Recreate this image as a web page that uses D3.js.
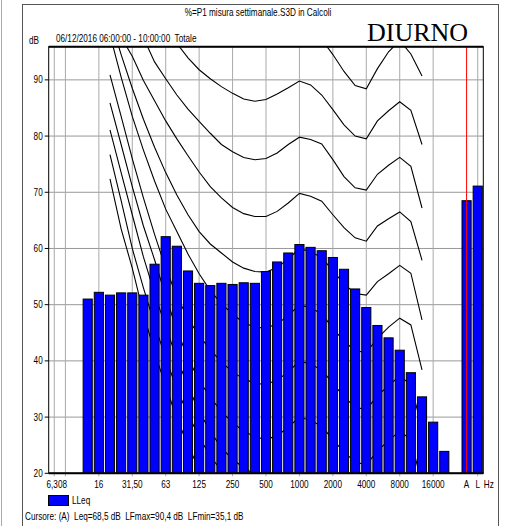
<!DOCTYPE html>
<html>
<head>
<meta charset="utf-8">
<script src="https://cdn.jsdelivr.net/npm/d3@7/dist/d3.min.js"></script>
<style>
body { margin: 0; background: #fff; }
text { font-family: "Liberation Sans", Arial, sans-serif; fill: #000; white-space: pre; }
</style>
</head>
<body>
<div class="chart"></div>
<script>
var width = 506;
var height = 526;

// slots along the x axis: third octave bands, an empty slot, then A and L totals
var bands = ["6.3","8","10","12.5","16","20","25","31.5","40","50","63","80","100","125","160","200",
  "250","315","400","500","630","800","1000","1250","1600","2000","2500","3150","4000","5000","6300",
  "8000","10000","12500","16000","20000","gap","A","L"];

// LLeq per band (dB), null = no bar
var lleq = [null,null,null,51.0,52.2,51.7,52.1,52.1,51.7,57.2,62.1,60.4,56.0,53.8,53.4,53.8,
  53.6,53.9,53.8,55.9,57.6,59.2,60.7,60.2,59.6,58.4,56.3,52.8,49.5,46.3,44.1,
  41.9,37.9,33.6,29.1,23.9,null,68.5,71.1];

var tickLabels = [["6.3","6,308"],["16","16"],["31.5","31,50"],["63","63"],["125","125"],["250","250"],
  ["500","500"],["1000","1000"],["2000","2000"],["4000","4000"],["8000","8000"],["16000","16000"],
  ["A","A"],["L","L"]];
var gridBands = ["6.3","8","16","31.5","63","125","250","500","1000","2000","4000","8000","16000","L"];
var yTicks = [20,30,40,50,60,70,80,90];

// isophonic curves, 20 Hz .. 12.5 kHz
var curveBands = ["20","25","31.5","40","50","63","80","100","125","160","200","250","315","400","500",
  "630","800","1000","1250","1600","2000","2500","3150","4000","5000","6300","8000","10000","12500"];
var phon0   = [72.4,63.5,56.5,48.5,41.5,35.5,29.8,25,20.7,16.8,13.8,11.2,8.9,7.2,6,5,4.4,4.2,3.8,3,1,-1.5,-3.5,-4,-1.5,2,6,5,-3];
var phon10  = [76.7,68.5,60,53,46.5,40.5,35,30.5,26.5,23,20.5,18.5,16.5,15,14,13.5,13.8,14.5,14,13,10.5,8,6,5.5,8,10,12,10.5,3];
var phon20  = [81.1,73.5,66,58.5,52,46,40.5,35.5,31,27.5,24.5,22.5,21,19.8,18.5,18.5,19.2,20,19.3,18.3,16,13.7,12,11.5,14,15.8,17.5,16,8];
var phon30  = [85.9,78.5,71,64,58,51.5,45.5,40.5,36.5,33.5,31,29,27.5,26.5,26,26.7,28.2,30,29.4,28.4,26,23.8,22,21.5,24,25.8,27.5,26,18];
var phon40  = [90.9,83.5,76,69,62.5,56.5,51.5,47.5,44.5,42,39.8,38,36.8,36,35.8,36.6,38,40,39.4,38.4,36,33.6,31.8,31.3,33.8,35.6,37.3,35.8,28];
var phon50  = [98,90.5,83.5,77.5,72,67,63,59,55.5,52.5,50.2,48.3,46.8,46,45.8,46.6,48,50,49.4,48.4,45.8,43.5,41.8,41.5,44,46,47.6,46.4,38.4];
var phon60  = [101,94.5,88.5,83,78,73.5,69.5,66,63,60.8,59.2,57.6,56.5,55.9,55.8,56.6,58.1,60,59.4,58.4,56,53.7,52,51.7,54.1,55.5,57,55.6,47.3];
var phon70  = [102,97.6,94.2,89.9,86.3,82.7,79.5,76.5,73.6,71,69,67.3,66.2,65.7,65.7,66.6,68.1,69.8,69.3,68.4,66,63.7,61.9,61.3,64,65.3,66.5,64.8,57.9];
var phon80  = [110,106,102,97.5,93.2,90.2,87.3,84.8,82.6,80.5,78.5,77.2,76.2,75.8,76,77,78.5,79.8,79.4,78.6,75.8,72.8,70.8,70.4,73.2,74.8,76.2,74.6,67.2];
var phon90  = [118,114,110,106,102.5,99.5,96.5,93.9,91.8,90.2,88.8,87.6,86.6,86.2,86.5,87.5,88.6,89.8,89.1,87.3,84.7,82,80,79.5,82.7,84.5,86.1,84.6,78.5];
var phon100 = [126,122,118,114,111,108,105.5,103,101.5,100,98.8,97.6,96.6,96.2,96.5,97.4,98.6,100,99,97.2,94.5,91.5,89,88.4,92,95,97,94.6,90.7];
var curves = [phon0,phon10,phon20,phon30,phon40,phon50,phon60,phon70,phon80,phon90,phon100];

var plot = {left: 48.7, right: 483.3, top: 46.7, bottom: 473.3};
var narrow = " scale(0.82,1)";   // condensed look of the original font

var svg = d3.select(".chart").append("svg")
    .attr("width", width)
    .attr("height", height);

var x = d3.scaleBand()
    .domain(bands)
    .range([plot.left, plot.right]);

var y = d3.scaleLinear()
    .domain([20, 95.9])
    .range([plot.bottom, plot.top]);

function cx(b) { return x(b) + x.bandwidth() / 2; }

function label(px, py, str, anchor) {
  return svg.append("text")
      .attr("transform", "translate(" + px + "," + py + ")" + narrow)
      .attr("text-anchor", anchor || "start")
      .attr("font-size", 10)
      .text(str);
}

// outer frame
svg.append("line").attr("x1", 1.5).attr("x2", 1.5).attr("y1", 0).attr("y2", height)
    .attr("stroke", "#aaa").attr("stroke-width", 1);
svg.append("rect").attr("x", 22.5).attr("y", 4.5).attr("width", 476).attr("height", 540)
    .attr("fill", "none").attr("stroke", "#555").attr("stroke-width", 1);

svg.append("defs").append("clipPath").attr("id", "clip")
  .append("rect")
    .attr("x", plot.left).attr("y", plot.top)
    .attr("width", plot.right - plot.left).attr("height", plot.bottom - plot.top);

// grid
svg.append("g").attr("class", "grid")
  .selectAll("line")
  .data(yTicks)
  .enter().append("line")
    .attr("x1", plot.left).attr("x2", plot.right)
    .attr("y1", function(d) { return y(d); })
    .attr("y2", function(d) { return y(d); })
    .attr("stroke", "#999").attr("stroke-width", 1);

svg.append("g").attr("class", "vgrid")
  .selectAll("line")
  .data(gridBands)
  .enter().append("line")
    .attr("x1", function(d) { return cx(d); })
    .attr("x2", function(d) { return cx(d); })
    .attr("y1", plot.top).attr("y2", plot.bottom + 3)
    .attr("stroke", "#aaa").attr("stroke-width", 1);

// isophonic curves
var line = d3.line()
    .x(function(d, i) { return cx(curveBands[i]); })
    .y(function(d) { return y(d); });

svg.append("g").attr("clip-path", "url(#clip)")
  .selectAll("path")
  .data(curves)
  .enter().append("path")
    .attr("d", line)
    .attr("fill", "none")
    .attr("stroke", "#000")
    .attr("stroke-width", 1.1);

// bars
var bw = x.bandwidth() * 0.82;
svg.append("g").attr("class", "bars")
  .selectAll("rect")
  .data(bands.map(function(b, i) { return {band: b, v: lleq[i]}; })
    .filter(function(d) { return d.v != null; }))
  .enter().append("rect")
    .attr("x", function(d) { return cx(d.band) - bw / 2; })
    .attr("y", function(d) { return y(d.v); })
    .attr("width", bw)
    .attr("height", function(d) { return y(20) - y(d.v); })
    .attr("fill", "#0000ff")
    .attr("stroke", "#000")
    .attr("stroke-width", 1);

// cursor on A
svg.append("line")
    .attr("x1", cx("A")).attr("x2", cx("A"))
    .attr("y1", plot.top).attr("y2", plot.bottom)
    .attr("stroke", "#ff0000").attr("stroke-width", 1);

// plot border
svg.append("rect")
    .attr("x", plot.left).attr("y", plot.top)
    .attr("width", plot.right - plot.left).attr("height", plot.bottom - plot.top)
    .attr("fill", "none").attr("stroke", "#000").attr("stroke-width", 1);
svg.append("line").attr("x1", plot.left).attr("x2", plot.right)
    .attr("y1", plot.top).attr("y2", plot.top).attr("stroke", "#000").attr("stroke-width", 2);
svg.append("line").attr("x1", plot.left).attr("x2", plot.right)
    .attr("y1", plot.bottom).attr("y2", plot.bottom).attr("stroke", "#000").attr("stroke-width", 2);

// y axis
svg.append("g").attr("class", "yaxis")
  .selectAll("line")
  .data(yTicks)
  .enter().append("line")
    .attr("x1", plot.left - 4).attr("x2", plot.left)
    .attr("y1", function(d) { return y(d); })
    .attr("y2", function(d) { return y(d); })
    .attr("stroke", "#000");
yTicks.forEach(function(d) { label(plot.left - 6, y(d) + 3.5, String(d), "end"); });

// x labels
tickLabels.forEach(function(d) {
  label(cx(d[0]) + (d[0] == "6.3" ? 2.5 : 0), 488, d[1], "middle");
});
label(cx("L") + x.step(), 488, "Hz", "middle");

// titles
label(258, 16, "%=P1 misura settimanale.S3D in Calcoli", "middle");
label(29, 44, "dB");
label(56, 42, "06/12/2016 06:00:00 - 10:00:00  Totale");
svg.append("text").attr("x", 367).attr("y", 41).attr("font-size", 26)
    .style("font-family", "'Liberation Serif', 'Times New Roman', serif")
    .text("DIURNO");

// legend
svg.append("rect").attr("x", 48.5).attr("y", 495.5).attr("width", 20).attr("height", 10)
    .attr("fill", "#0000ff").attr("stroke", "#000");
label(72, 504, "LLeq");
label(25, 520, "Cursore: (A)  Leq=68,5 dB  LFmax=90,4 dB  LFmin=35,1 dB");
</script>
</body>
</html>
